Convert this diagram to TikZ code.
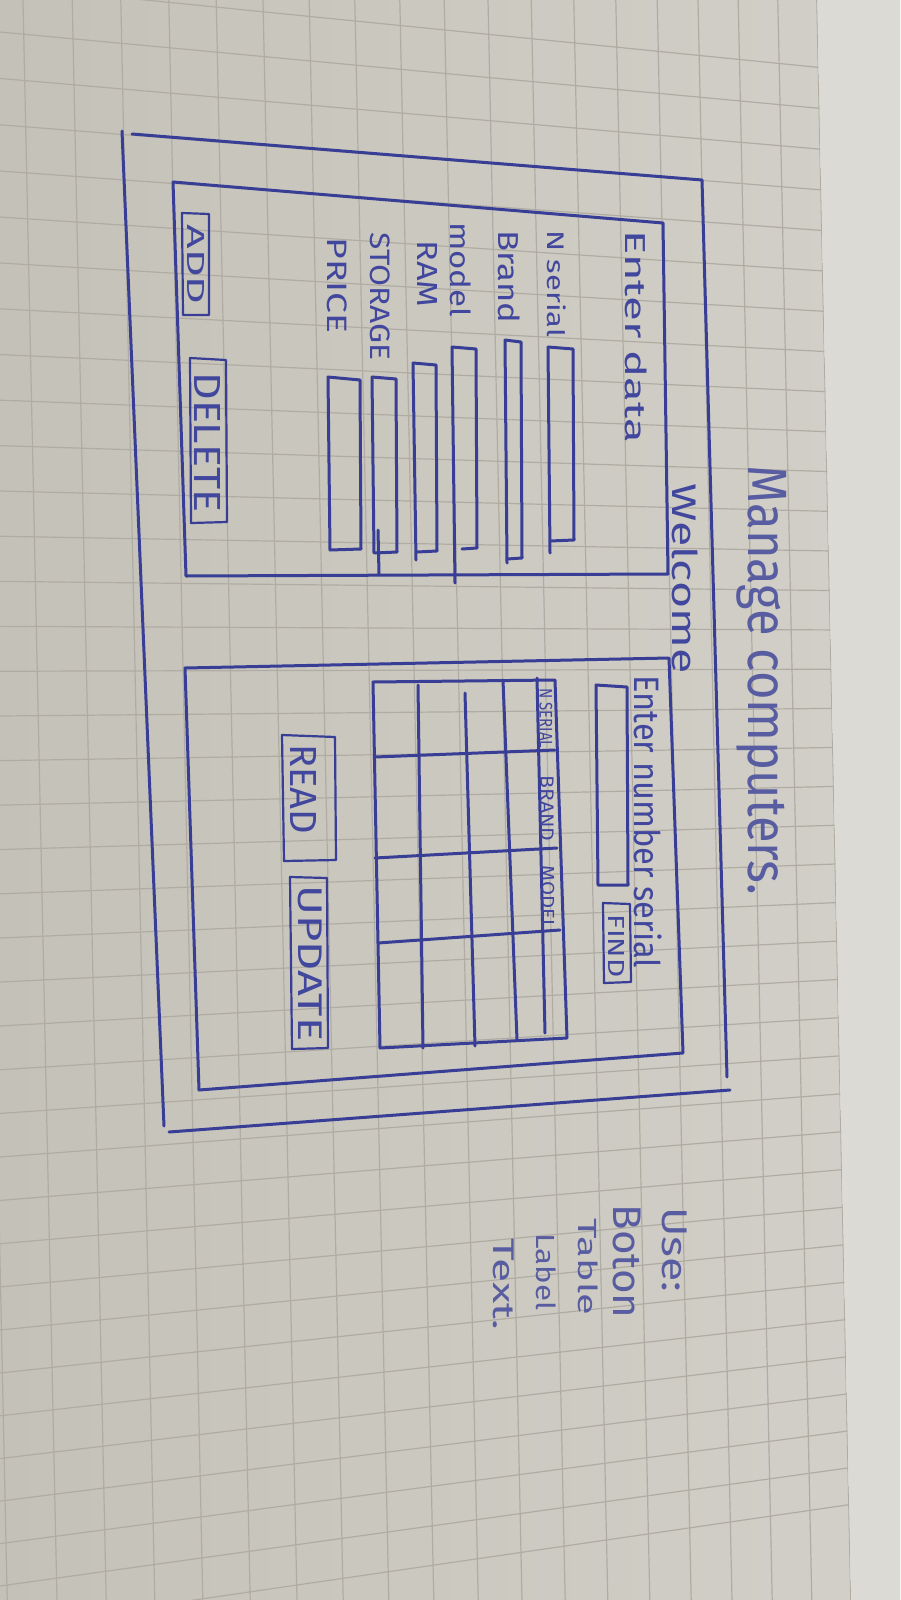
\documentclass[tikz,border=0pt]{standalone}
\usepackage{fontspec}
\setmainfont{Fira Sans}
\usepackage{graphicx}

% one drawing unit = one pixel of a 900 x 1600 sheet
\newdimen\unitpx \unitpx=0.5pt
% text stretched to a given length and total height (both in drawing units)
\newcommand{\handtext}[3]{\resizebox*{#1\unitpx}{#2\unitpx}{#3}}

\definecolor{paperL}{RGB}{196,193,184}
\definecolor{paperR}{RGB}{210,208,200}
\definecolor{margin}{RGB}{219,218,212}
\definecolor{gridc}{RGB}{176,172,163}
\definecolor{inkc}{RGB}{56,61,150}
\definecolor{inkt}{RGB}{66,71,158}
\definecolor{inkfaint}{RGB}{88,92,160}

\begin{document}
\begin{tikzpicture}[x=0.5pt, y=-0.5pt,
  ink/.style={draw=inkc, line width=1.5pt, line cap=round, line join=round},
  thinink/.style={draw=inkc, line width=1.1pt, line cap=round, line join=round},
  gridline/.style={draw=gridc, line width=0.6pt},
  hand/.style={rotate=-90, anchor=west, inner sep=0pt, text=inkt},
  note/.style={hand, text=inkfaint}]

\useasboundingbox (0,0) rectangle (900,1600);

% paper
\shade[left color=paperL, right color=paperR] (0,0) rectangle (900,1600);
\fill[margin] (817,0) -- (900,0) -- (900,1600) -- (851,1600) -- cycle;

% squared grid, seen slightly in perspective (rows converge to the right)
\begin{scope}
  \clip (0,0) -- (817,0) -- (851,1600) -- (0,1600) -- cycle;
  \foreach \j in {-1,...,36} {
    \pgfmathsetmacro\ya{32+46.5*(\j)-0.06*(\j)*(\j)}
    \pgfmathsetmacro\yb{\ya+(655-\ya)*0.1346}
    \draw[gridline] (0,\ya) -- (900,\yb);
  }
  \foreach \k in {-1,...,18} {
    \pgfmathsetmacro\xa{23+49.5*(\k)-0.3*(\k)*(\k)}
    \draw[gridline] (\xa,0) -- ({\xa+34},1600);
  }
\end{scope}

% window frame
\draw[ink] (122,131) -- (164,1126);
\draw[ink] (132,134) -- (702,180) -- (727,1077);
\draw[ink] (169,1132) -- (730,1090);

% title
\node[hand, text=inkfaint] (title) at (762,465) {\handtext{430}{50}{Manage computers.}};
\node[hand] (welcome) at (685,483) {\handtext{190}{26}{Welcome}};

% ---------- data entry panel ----------
\draw[ink] (173,182) -- (663,223) -- (668,574) -- (186,576) -- cycle;
\node[hand] (enterdata) at (636,230) {\handtext{213}{22}{Enter data}};

\node[hand] (lserial)  at (557,230) {\handtext{107}{19}{N serial}};
\node[hand] (lbrand)   at (509,230) {\handtext{93}{22}{Brand}};
\node[hand] (lmodel)   at (461,222) {\handtext{95}{21}{model}};
\node[hand] (lram)     at (427,240) {\handtext{67}{20}{RAM}};
\node[hand] (lstorage) at (380,232) {\handtext{128}{20}{STORAGE}};
\node[hand] (lprice)   at (337,237) {\handtext{96}{20}{PRICE}};

% input fields
\draw[ink] (548,347) -- (573,349) -- (574,540) -- (550,541);
\draw[ink] (548,347) -- (550,553);
\draw[ink] (505,340) -- (521,342) -- (522,558) -- (507,559);
\draw[ink] (505,340) -- (507,563);
\draw[ink] (452,347) -- (476,349) -- (477,548) -- (462,549);
\draw[ink] (452,347) -- (455,583);
\draw[ink] (413,363) -- (436,365) -- (437,551) -- (417,552);
\draw[ink] (413,363) -- (416,560);
\draw[ink] (372,377) -- (396,379) -- (397,552) -- (375,553);
\draw[ink] (372,377) -- (374,553);
\draw[ink] (378,530) -- (379,574);
\draw[ink] (328,377) -- (360,380) -- (361,549) -- (330,550) -- cycle;

% buttons
\draw[thinink] (182,213) -- (209,214) -- (209,315) -- (183,315) -- cycle;
\node[hand] (add) at (196,224) {\handtext{80}{17}{ADD}};
\draw[thinink] (190,358) -- (226,360) -- (227,522) -- (191,523) -- cycle;
\node[hand] (delete) at (207,372) {\handtext{140}{26}{DELETE}};

% ---------- search panel ----------
\draw[ink] (185,668) -- (669,658) -- (683,1053) -- (199,1090) -- cycle;
\node[hand] (enternum) at (648,675) {\handtext{293}{28}{Enter number serial}};

\draw[ink] (596,685) -- (627,687) -- (628,885) -- (598,885) -- cycle;
\draw[thinink] (603,903) -- (630,904) -- (631,982) -- (604,983) -- cycle;
\node[hand] (find) at (616,914) {\handtext{63}{16}{FIND}};

% result table
\draw[ink] (373,682) -- (555,680) -- (567,1038) -- (380,1048) -- cycle;
\draw[ink] (418,685) -- (423,1048);
\draw[ink] (465,693) -- (475,1046);
\draw[ink] (503,680) -- (517,1040);
\draw[ink] (537,678) -- (545,1033);
\draw[ink] (375,757) -- (555,750);
\draw[ink] (375,858) -- (557,848);
\draw[ink] (378,943) -- (560,930);
\node[hand] (hserial) at (546,688) {\handtext{60}{13}{N SERIAL}};
\node[hand] (hbrand)  at (547,775) {\handtext{66}{13}{BRAND}};
\node[hand] (hmodel)  at (548,865) {\handtext{64}{13}{MODEL}};

\draw[thinink] (282,735) -- (335,737) -- (336,860) -- (284,861) -- cycle;
\node[hand] (read) at (303,744) {\handtext{90}{26}{READ}};
\draw[thinink] (290,877) -- (327,878) -- (328,1048) -- (292,1049) -- cycle;
\node[hand] (update) at (310,885) {\handtext{156}{24}{UPDATE}};

% ---------- side notes ----------
\node[note] (use)   at (675,1207) {\handtext{85}{25}{Use:}};
\node[note] (boton) at (627,1204) {\handtext{114}{28}{Boton}};
\node[note] (table) at (588,1218) {\handtext{97}{20}{Table}};
\node[note] (label) at (546,1233) {\handtext{77}{20}{Label}};
\node[note] (text)  at (504,1238) {\handtext{92}{21}{Text.}};

\end{tikzpicture}
\end{document}
